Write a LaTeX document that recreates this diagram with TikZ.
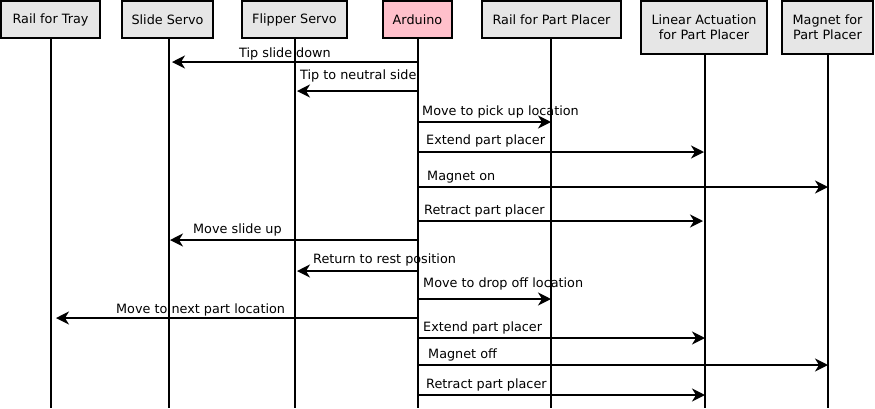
\documentclass[tikz,border=0pt]{standalone}
\usepackage{fontspec}
\setmainfont{DejaVu Sans}
\usetikzlibrary{arrows.meta}
\definecolor{boxgray}{HTML}{E6E6E6}
\definecolor{ardpink}{HTML}{FFC0CB}
\begin{document}
\begin{tikzpicture}[x=1pt,y=-1pt,
  font=\fontsize{12.8}{15}\selectfont,
  actor/.style={draw=black, line width=1.8pt, fill=boxgray, align=center, inner sep=0pt, text=black},
  life/.style={draw=black, line width=1.6pt},
  msg/.style={draw=black, line width=1.5pt, -{Stealth[length=13pt,width=13pt,inset=4pt]}},
  lbl/.style={anchor=base west, inner sep=0pt, text=black}]
\useasboundingbox (0,0) rectangle (875,408);
% actors
\node[actor, minimum width=99pt, minimum height=37pt] (tray) at (50.5,19.5) {Rail for Tray};
\node[actor, minimum width=91pt, minimum height=37pt] (slide) at (167.5,19.5) {Slide Servo};
\node[actor, minimum width=105pt, minimum height=37pt] (flip) at (294.5,19.5) {Flipper Servo};
\node[actor, fill=ardpink, minimum width=69pt, minimum height=37pt] (ard) at (417.5,19.5) {Arduino};
\node[actor, minimum width=139pt, minimum height=37pt] (rpp) at (551.5,19.5) {Rail for Part Placer};
\node[actor, minimum width=126pt, minimum height=53pt] (lin) at (704,27.5) {Linear Actuation\\for Part Placer};
\node[actor, minimum width=91pt, minimum height=53pt] (mag) at (827.5,27.5) {Magnet for\\Part Placer};
% lifeline x positions
\coordinate (Ltray) at (51,408);
\coordinate (Lslide) at (169,408);
\coordinate (Lflip) at (295,408);
\coordinate (Lard) at (418,408);
\coordinate (Lrpp) at (551,408);
\coordinate (Llin) at (705,408);
\coordinate (Lmag) at (828,408);
\draw[life] (tray.south -| Ltray) -- (Ltray);
\draw[life] (slide.south -| Lslide) -- (Lslide);
\draw[life] (flip.south -| Lflip) -- (Lflip);
\draw[life] (ard.south -| Lard) -- (Lard);
\draw[life] (rpp.south -| Lrpp) -- (Lrpp);
\draw[life] (lin.south -| Llin) -- (Llin);
\draw[life] (mag.south -| Lmag) -- (Lmag);
% messages
\draw[msg, shorten >=3pt] (Lard |- 0,62) -- (Lslide |- 0,62);
\node[lbl] (t1) at (239,57) {Tip slide down};
\draw[msg, shorten >=2pt] (Lard |- 0,91) -- (Lflip |- 0,91);
\node[lbl] (t2) at (300,79) {Tip to neutral side};
\draw[msg] (Lard |- 0,122) -- (Lrpp |- 0,122);
\node[lbl] (t3) at (422,115) {Move to pick up location};
\draw[msg, shorten >=1pt] (Lard |- 0,152) -- (Llin |- 0,152);
\node[lbl] (t4) at (426,144) {Extend part placer};
\draw[msg] (Lard |- 0,187) -- (Lmag |- 0,187);
\node[lbl] (t5) at (427,180) {Magnet on};
\draw[msg, shorten >=2pt] (Lard |- 0,221) -- (Llin |- 0,221);
\node[lbl] (t6) at (424,214) {Retract part placer};
\draw[msg, shorten >=1pt] (Lard |- 0,240) -- (Lslide |- 0,240);
\node[lbl] (t7) at (193,233) {Move slide up};
\draw[msg, shorten >=2pt] (Lard |- 0,271) -- (Lflip |- 0,271);
\node[lbl] (t8) at (313,263) {Return to rest position};
\draw[msg] (Lard |- 0,299) -- (Lrpp |- 0,299);
\node[lbl] (t9) at (423,287) {Move to drop off location};
\draw[msg, shorten >=5pt] (Lard |- 0,318) -- (Ltray |- 0,318);
\node[lbl] (t10) at (116,313) {Move to next part location};
\draw[msg] (Lard |- 0,338) -- (Llin |- 0,338);
\node[lbl] (t11) at (423,331) {Extend part placer};
\draw[msg] (Lard |- 0,365) -- (Lmag |- 0,365);
\node[lbl] (t12) at (428,358) {Magnet off};
\draw[msg] (Lard |- 0,395) -- (Llin |- 0,395);
\node[lbl] (t13) at (426,388) {Retract part placer};
\end{tikzpicture}
\end{document}
